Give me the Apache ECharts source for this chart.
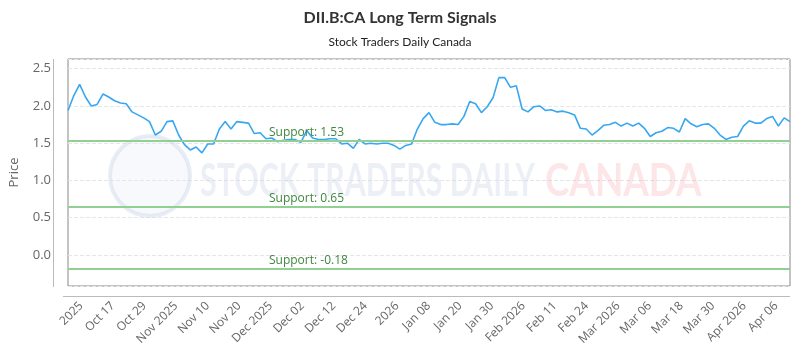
<!DOCTYPE html>
<html>
<head>
<meta charset="utf-8">
<script src="https://cdn.jsdelivr.net/npm/echarts@6/dist/echarts.min.js"></script>
<style>
  html, body { margin: 0; padding: 0; background: #fff; }
  #main { width: 800px; height: 350px; }
</style>
</head>
<body>
<div id="main"></div>
<script>
// closing prices, one per trading day
var prices = [
  1.94,2.14,2.29,2.12,2.00,2.02,2.16,2.12,2.07,2.04,2.03,1.92,1.88,1.84,1.79,1.61,
  1.66,1.79,1.80,1.61,1.48,1.41,1.45,1.37,1.49,1.49,1.69,1.79,1.69,1.79,1.78,1.77,
  1.63,1.64,1.56,1.57,1.52,1.54,1.55,1.55,1.51,1.67,1.57,1.55,1.55,1.56,1.56,1.49,
  1.50,1.43,1.55,1.49,1.50,1.49,1.50,1.50,1.47,1.42,1.47,1.49,1.69,1.83,
  1.91,1.78,1.75,1.75,1.76,1.75,1.86,2.06,2.03,1.91,1.99,2.11,2.38,2.38,2.25,2.27,
  1.96,1.92,1.99,2.00,1.94,1.95,1.92,1.93,1.91,1.88,1.70,1.69,1.61,1.67,
  1.74,1.75,1.78,1.73,1.77,1.73,1.77,1.70,1.59,1.64,1.66,1.71,1.70,1.65,1.83,1.76,
  1.72,1.75,1.76,1.70,1.61,1.55,1.58,1.59,1.73,1.80,1.77,1.77,1.83,1.86,1.73,1.84,1.79
];
var days = prices.map(function(v, i){ return i; });

// date labels along the bottom axis
var tickLabels = ['2025','Oct 17','Oct 29','Nov 2025','Nov 10','Nov 20','Dec 2025','Dec 02',
  'Dec 12','Dec 24','2026','Jan 08','Jan 20','Jan 30','Feb 2026','Feb 11','Feb 24',
  'Mar 2026','Mar 06','Mar 18','Mar 30','Apr 2026','Apr 06'];
var tickIdx = tickLabels.map(function(v, i){ return i; });

// support levels
var supports = [1.53, 0.65, -0.18];

var chart = echarts.init(document.getElementById('main'));

var option = {
  backgroundColor: '#fff',
  animation: false,
  title: {
    text: 'DII.B:CA Long Term Signals',
    subtext: 'Stock Traders Daily Canada',
    left: 'center',
    top: 5,
    itemGap: 10,
    textStyle: { fontFamily: 'Lato', fontWeight: 'bold', fontSize: 16, color: '#333' },
    subtextStyle: { fontFamily: 'Lato', fontSize: 12, color: '#222' }
  },
  graphic: [
    { type: 'circle', z: 1, shape: { cx: 150, cy: 176, r: 40 },
      style: { fill: 'rgba(225,232,244,0.25)', stroke: 'rgba(205,215,235,0.45)', lineWidth: 4 } },
    { type: 'text', z: 1, x: 200, y: 158, scaleX: 0.66,
      style: { text: 'STOCK TRADERS DAILY', font: 'bold 46px Lato', fill: 'rgba(205,215,232,0.38)' } },
    { type: 'text', z: 1, x: 545, y: 158, scaleX: 0.8,
      style: { text: 'CANADA', font: 'bold 46px Lato', fill: 'rgba(240,140,150,0.22)' } },
    // detached axis lines, offset from the plot box
    { type: 'line', z: 1, shape: { x1: 53.5, y1: 59, x2: 53.5, y2: 287 },
      style: { stroke: '#bbb', lineWidth: 1 } },
    { type: 'line', z: 1, shape: { x1: 63, y1: 296.5, x2: 790, y2: 296.5 },
      style: { stroke: '#bbb', lineWidth: 1 } }
  ],
  grid: {
    left: 63, right: 10, top: 59, bottom: 64,
    show: true, borderColor: '#888', borderWidth: 1
  },
  xAxis: [{
    type: 'category',
    data: days,
    boundaryGap: false,
    show: false
  }, {
    type: 'value',
    min: -0.42,
    max: 22.44,
    position: 'bottom',
    offset: 10,
    axisLine: { show: false },
    axisTick: { show: false },
    splitLine: { show: false },
    axisLabel: {
      customValues: tickIdx,
      rotate: 45,
      margin: 8,
      color: '#666',
      fontFamily: 'Open Sans',
      fontSize: 12,
      formatter: function(v){ return tickLabels[Math.round(v)]; }
    }
  }],
  yAxis: {
    type: 'value',
    min: -0.416,
    max: 2.63,
    offset: 10,
    name: 'Price',
    nameLocation: 'middle',
    nameGap: 37,
    nameTextStyle: { color: '#666', fontFamily: 'Open Sans', fontSize: 13 },
    axisLine: { show: false },
    axisTick: { show: false },
    axisLabel: {
      color: '#666', fontFamily: 'Open Sans', fontSize: 13, margin: 7,
      showMinLabel: false, showMaxLabel: false,
      formatter: function(v){ return v.toFixed(1); }
    },
    splitLine: { lineStyle: { color: '#e6e6e6', type: 'dashed' } }
  },
  series: [{
    type: 'line',
    xAxisIndex: 0,
    data: prices,
    z: 3,
    showSymbol: false,
    lineStyle: { color: '#38a7f2', width: 1.6 },
    itemStyle: { color: '#38a7f2' },
    markLine: {
      silent: true,
      symbol: 'none',
      lineStyle: { color: '#92cf92', width: 2, type: 'solid' },
      label: {
        position: 'insideStartTop',
        distance: [201, 2],
        color: '#3f873f',
        fontFamily: 'Open Sans',
        fontSize: 12,
        formatter: function(p){ return 'Support: ' + p.value; }
      },
      data: supports.map(function(s){ return { yAxis: s }; })
    }
  }]
};

chart.setOption(option);
</script>
</body>
</html>
